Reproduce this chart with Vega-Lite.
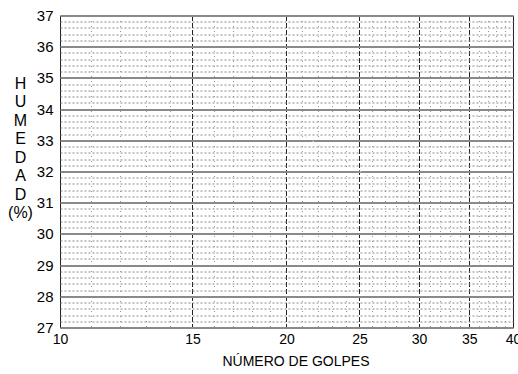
{
  "$schema": "https://vega.github.io/schema/vega-lite/v6.json",
  "width": 453,
  "height": 312,
  "autosize": {"type": "none"},
  "padding": {"left": 60, "top": 15.5, "right": 5, "bottom": 46.5},
  "background": "white",
  "config": {"view": {"stroke": "#222", "strokeWidth": 1}, "font": "Liberation Sans"},
  "data": {"values": [
    {"golpes": 16.2, "humedad": 34.9},
    {"golpes": 24.9, "humedad": 32.05},
    {"golpes": 27.9, "humedad": 31.35},
    {"golpes": 31.5, "humedad": 30.5},
    {"golpes": 37.1, "humedad": 28.75}
  ]},
  "mark": {"type": "line", "color": "#dcdcdc", "strokeWidth": 1, "strokeDash": [2, 6]},
  "encoding": {
    "x": {
      "field": "golpes", "type": "quantitative",
      "scale": {"type": "log", "domain": [10, 40], "nice": false},
      "axis": {
        "values": [10,11,12,13,14,15,16,17,18,19,20,21,22,23,24,25,26,27,28,29,30,31,32,33,34,35,36,37,38,39,40],
        "grid": true,
        "gridColor": {"condition": {"test": "datum.value % 5 === 0", "value": "#222"}, "value": "#999"},
        "gridDash": {"condition": {"test": "datum.value % 5 === 0", "value": [5, 2]}, "value": [1, 4]},
        "gridWidth": 1,
        "gridOpacity": 1,
        "ticks": false, "tickSize": 0, "domain": false,
        "labelExpr": "datum.value % 5 === 0 ? format(datum.value, 'd') : ''",
        "labelFontSize": 14, "labelColor": "#000", "labelPadding": 5,
        "labelOverlap": false, "labelFlush": false, "labelBound": false,
        "title": "NÚMERO DE GOLPES",
        "titleFontSize": 14, "titleFontWeight": "normal", "titleColor": "#000",
        "titleX": 235.5, "titleY": 33.5, "titleAlign": "center", "titleBaseline": "middle"
      }
    },
    "y": {
      "field": "humedad", "type": "quantitative",
      "scale": {"domain": [27, 37], "nice": false, "zero": false},
      "axis": {
        "values": [27,27.2,27.4,27.6,27.8,28,28.2,28.4,28.6,28.8,29,29.2,29.4,29.6,29.8,30,30.2,30.4,30.6,30.8,31,31.2,31.4,31.6,31.8,32,32.2,32.4,32.6,32.8,33,33.2,33.4,33.6,33.8,34,34.2,34.4,34.6,34.8,35,35.2,35.4,35.6,35.8,36,36.2,36.4,36.6,36.8,37],
        "grid": true,
        "gridColor": {"condition": {"test": "datum.value % 1 === 0", "value": "#8a8a8a"}, "value": "#888"},
        "gridDash": {"condition": {"test": "datum.value % 1 === 0", "value": []}, "value": [2, 2]},
        "gridWidth": {"condition": {"test": "datum.value % 1 === 0", "value": 2}, "value": 1},
        "gridOpacity": 1,
        "ticks": false, "tickSize": 0, "domain": false,
        "labelExpr": "datum.value % 1 === 0 ? format(datum.value, 'd') : ''",
        "labelFontSize": 15, "labelColor": "#000", "labelPadding": 7, "labelBaseline": "middle",
        "labelOverlap": false, "labelFlush": false, "labelBound": false,
        "title": ["H", "U", "M", "E", "D", "A", "D", "(%)"],
        "titleFontSize": 16, "titleFontWeight": "normal", "titleColor": "#000",
        "titleAngle": 0, "titleX": -40, "titleY": 67.5, "titleAlign": "center", "titleBaseline": "middle",
        "titleLineHeight": 18.5
      }
    }
  }
}
